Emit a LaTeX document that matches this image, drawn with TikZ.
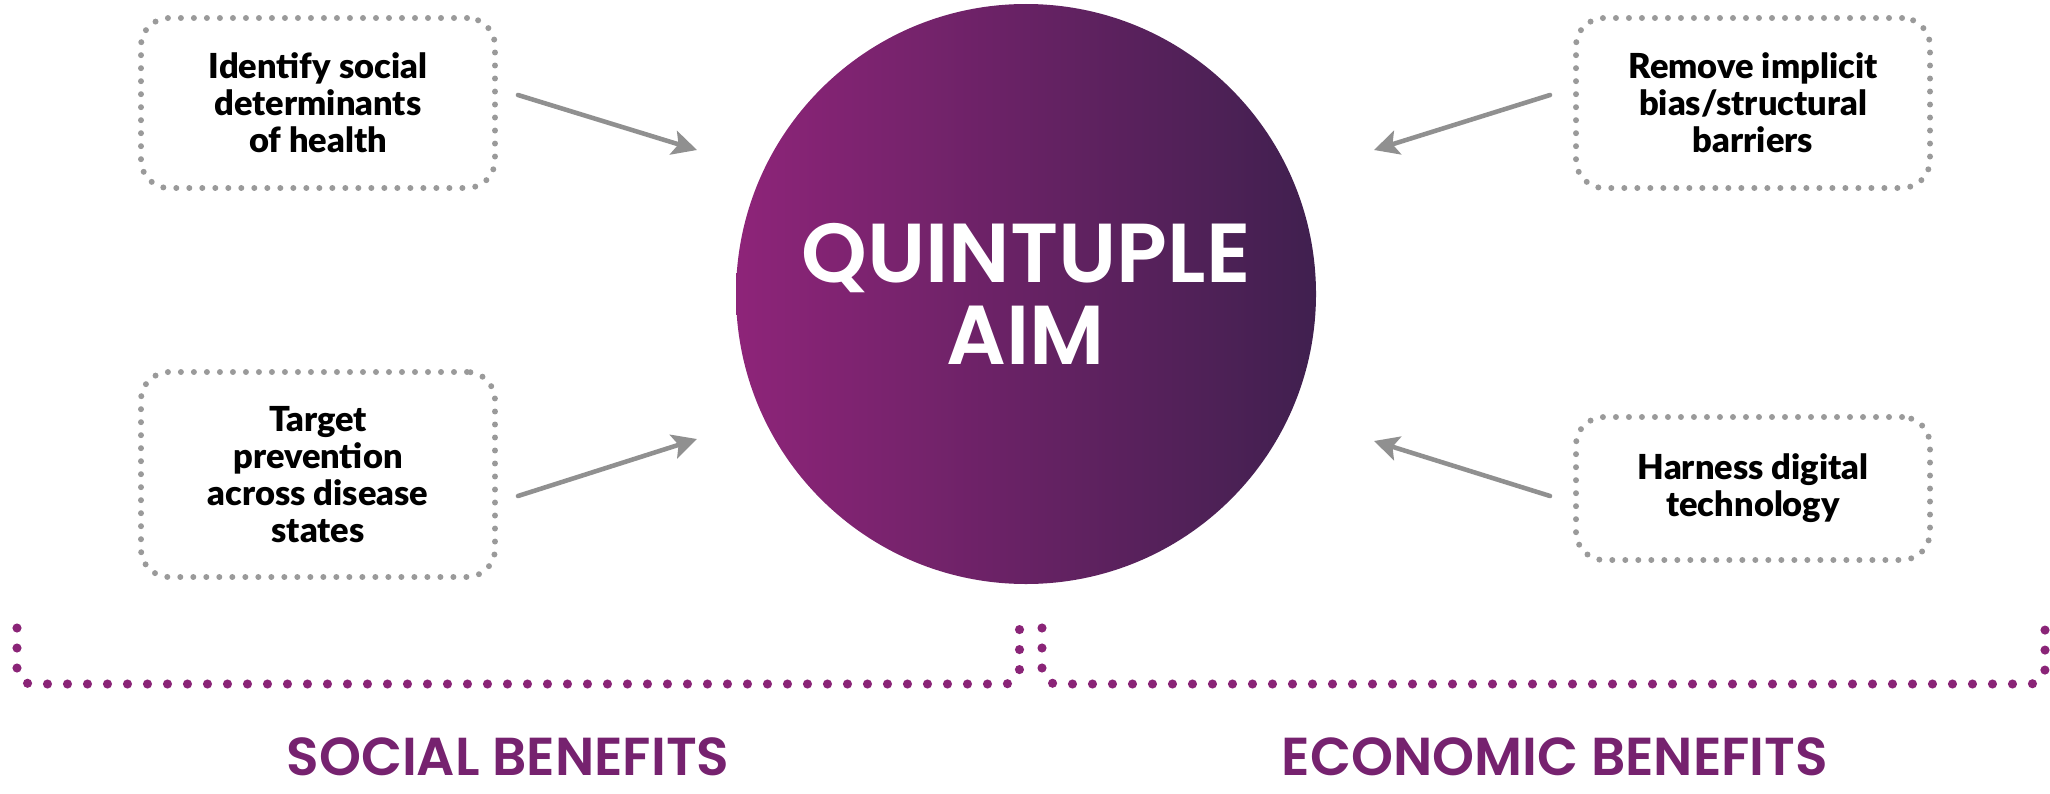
\documentclass[tikz,border=0pt]{standalone}
\usepackage{fontspec}
\usetikzlibrary{arrows.meta}
\newfontfamily\headfont{Poppins}[UprightFont=* Medium, BoldFont=* SemiBold]
\newfontfamily\boxfont{Lato}[BoldFont=* Black]
\definecolor{aimleft}{HTML}{8E2479}
\definecolor{aimright}{HTML}{40204F}
\definecolor{dotgrey}{HTML}{9A9A9A}
\definecolor{arrowgrey}{HTML}{909090}
\definecolor{benefit}{HTML}{8A2477}
\definecolor{benefittext}{HTML}{76226F}
\begin{document}
\begin{tikzpicture}[scale=1,line join=round,line cap=round,>={Stealth[length=7pt,width=7pt,inset=1.5pt]}]
	\tikzset{goalbox/.style={draw=dotgrey,line width=1.7pt,dash pattern=on 0pt off 3.7pt,rounded corners=0.28cm,minimum width=3.54cm,align=center,text=black,font=\boxfont\bfseries\fontsize{9.8}{10.5}\selectfont}}
	\tikzset{aimdisc/.style={circle,minimum size=5.8cm,inner sep=0pt,left color=aimleft,right color=aimright,text=white,align=center,font=\headfont\bfseries\fontsize{23.8}{23.3}\selectfont}}
	\tikzset{flow/.style={->,draw=arrowgrey,line width=1.3pt}}
	\tikzset{bracket/.style={draw=benefit,line width=2.6pt,dash pattern=on 0pt off 0.2cm,rounded corners=0.15cm}}
	\tikzset{benefitlabel/.style={anchor=base,inner sep=0pt,text=benefittext,font=\headfont\bfseries\fontsize{15.2}{16}\selectfont}}
	\useasboundingbox (0,0) rectangle (20.5,7.93);
	\node[aimdisc] (aim) at (10.26,4.99) {QUINTUPLE\\AIM};
	\node[goalbox,minimum height=1.70cm] (sdh) at (3.18,6.90) {Identify social\\determinants\\of health};
	\node[goalbox,minimum height=2.05cm] (prev) at (3.18,3.185) {Target\\prevention\\across disease\\states};
	\node[goalbox,minimum height=1.70cm] (bias) at (17.53,6.90) {Remove implicit\\bias/structural\\barriers};
	\node[goalbox,minimum height=1.43cm] (digi) at (17.53,3.045) {Harness digital\\technology};
	\coordinate (tipA) at (6.97,6.43);
	\coordinate (tipB) at (6.97,3.54);
	\coordinate (tipC) at (13.74,6.43);
	\coordinate (tipD) at (13.74,3.52);
	\draw[flow] ([shift={(0.2,0.08)}]sdh.east) -- (tipA);
	\draw[flow] ([shift={(0.2,-0.215)}]prev.east) -- (tipB);
	\draw[flow] ([shift={(-0.23,0.08)}]bias.west) -- (tipC);
	\draw[flow] ([shift={(-0.23,-0.075)}]digi.west) -- (tipD);
	\draw[bracket] (0.17,1.65) -- (0.17,1.09) -- (10.195,1.09) -- (10.195,1.65);
	\draw[bracket] (10.42,1.65) -- (10.42,1.09) -- (20.45,1.09) -- (20.45,1.65);
	\node[benefitlabel] (soc) at (5.08,0.18) {SOCIAL BENEFITS};
	\node[benefitlabel] (eco) at (15.55,0.18) {ECONOMIC BENEFITS};
\end{tikzpicture}
\end{document}
